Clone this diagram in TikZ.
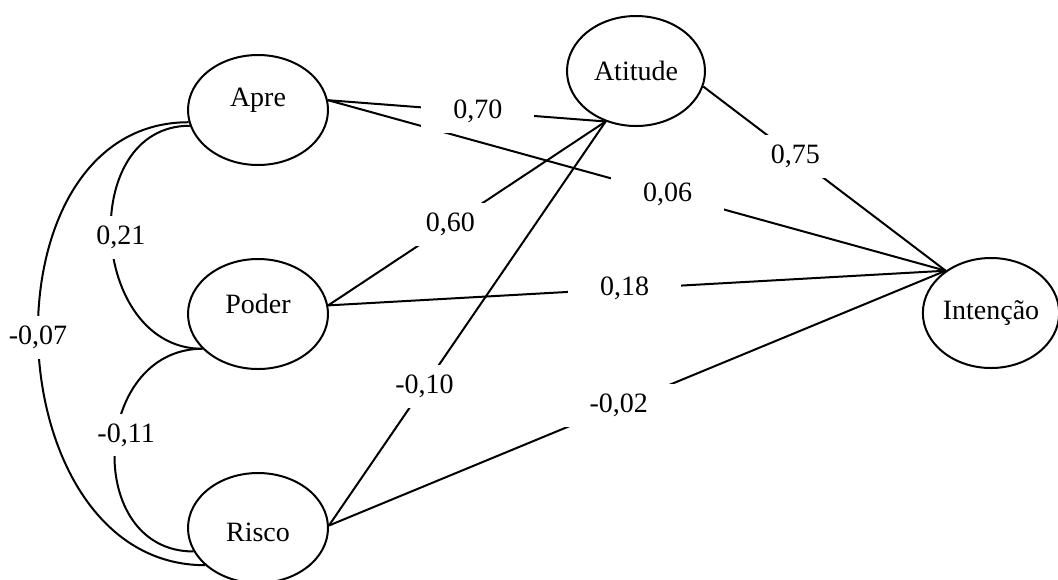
\documentclass[tikz,border=0pt]{standalone}
\usepackage{fontspec}
\setmainfont{Liberation Serif}
\usetikzlibrary{shapes.geometric}

\begin{document}
\begin{tikzpicture}[x=0.5pt,y=0.5pt,yscale=-1,xscale=1,
    latent/.style={draw,ellipse,line width=1pt,inner sep=0pt,minimum width=70pt,minimum height=55pt,font=\fontsize{14}{16}\selectfont},
    link/.style={line width=1pt},
    coef/.style={fill=white,inner xsep=16pt,inner ysep=5pt,font=\fontsize{14}{16}\selectfont},
    corr/.style={fill=white,inner xsep=2pt,inner ysep=5pt,font=\fontsize{14}{16}\selectfont}]
\useasboundingbox (0,0) rectangle (1058,579);

%Shape: Ellipses
    \node [latent] (apre) at (258,110) {\raisebox{5pt}[\height][\depth]{Apre}};
    \node [latent] (poder) at (258,314) {\raisebox{5pt}[\height][\depth]{Poder}};
    \node [latent] (risco) at (258,528) {\raisebox{-2pt}[\height][\depth]{Risco}};
    \node [latent,minimum width=69pt] (atitude) at (636,71) {Atitude};
    \node [latent,minimum width=62pt] (intencao) at (991,313) {Intenção};

%Straight Lines
    \draw [link] (apre.8) -- node [coef,pos=0.55] {0,06} (intencao.137);
    \draw [link] (apre.8) -- node [coef,pos=0.54] {0,70} (atitude.239);
    \draw [link] (poder.7) -- node [coef,pos=0.44] {0,60} (atitude.239);
    \draw [link] (poder.7) -- node [coef,pos=0.48] {0,18} (intencao.137);
    \draw [link] (risco.2) -- node [coef,pos=0.345] {-0,10} (atitude.239);
    \draw [link] (risco.2) -- node [coef,pos=0.47] {-0,02} (intencao.137);
    \draw [link] (atitude.-13) -- node [coef,pos=0.38] {0,75} (intencao.137);

%Curve Lines
    \draw [link] (apre.193) to [out=180,in=180,looseness=1.3] node [corr,pos=0.5,xshift=5pt] {0,21} (poder.212);
    \draw [link] (poder.212) to [out=180,in=180,looseness=1.4] node [corr,pos=0.45,xshift=5pt] {-0,11} (risco.200);
    \draw [link] (apre.190) to [out=180,in=180,looseness=1.22] node [corr,pos=0.49] {-0,07} (risco.215);

\end{tikzpicture}
\end{document}
